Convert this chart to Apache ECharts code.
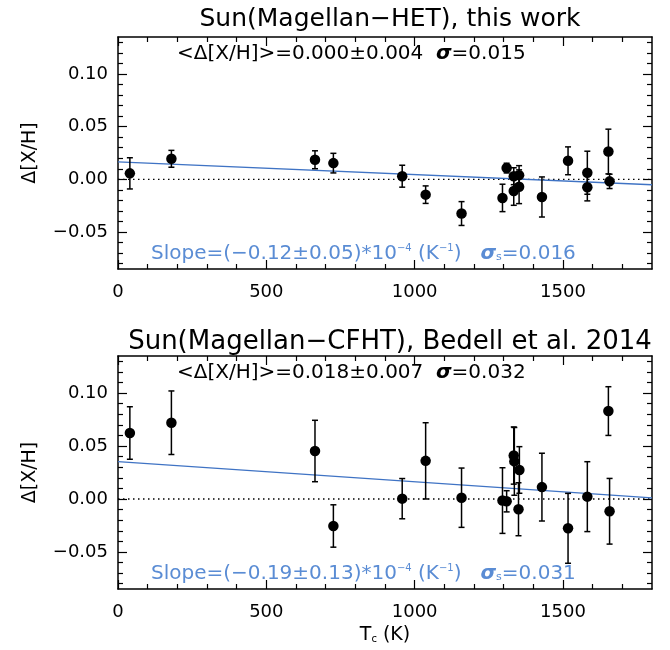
<!DOCTYPE html>
<html>
<head>
<meta charset="utf-8">
<script src="https://cdn.jsdelivr.net/npm/echarts@6/dist/echarts.min.js"></script>
<style>
html,body{margin:0;padding:0;background:#fff;}
#c{width:670px;height:650px;}
</style>
</head>
<body>
<div id="c"></div>
<script>
// ---- data ----
var tcTop   = [40, 180, 664, 726, 958, 1037, 1158, 1296, 1310, 1334, 1334, 1352, 1352, 1429, 1517, 1582, 1582, 1653, 1657];
var valTop  = [0.0057, 0.0195, 0.0186, 0.0154, 0.003, -0.0145, -0.0324, -0.0176, 0.0107, 0.003, -0.011, 0.004, -0.007, -0.0167, 0.0176, 0.0063, -0.0075, 0.0264, -0.0019];
var errTop  = [0.0148, 0.008, 0.0085, 0.0093, 0.0104, 0.0083, 0.0113, 0.013, 0.0046, 0.008, 0.0136, 0.009, 0.016, 0.019, 0.0132, 0.0204, 0.0129, 0.0212, 0.0068];

var tcBot   = [40, 180, 664, 726, 958, 1037, 1158, 1296, 1310, 1334, 1336, 1353, 1350, 1429, 1517, 1582, 1653, 1657];
var valBot  = [0.0623, 0.072, 0.0453, -0.0255, 0.0003, 0.036, 0.0012, -0.0015, -0.0022, 0.041, 0.0355, 0.0274, -0.0097, 0.0112, -0.0277, 0.0022, 0.083, -0.0116];
var errBot  = [0.0248, 0.030, 0.029, 0.020, 0.019, 0.036, 0.028, 0.031, 0.010, 0.027, 0.032, 0.022, 0.025, 0.032, 0.033, 0.033, 0.023, 0.031];

var fitTop = {intercept: 0.0165, slope: -0.12e-4};
var fitBot = {intercept: 0.0352, slope: -0.19e-4};

var xMajor = [0, 500, 1000, 1500];
var xMinor = [100, 200, 300, 400, 600, 700, 800, 900, 1100, 1200, 1300, 1400, 1600, 1700];
var yMajor = [-0.05, 0, 0.05, 0.10];
var yMinor = [-0.08, -0.07, -0.06, -0.04, -0.03, -0.02, -0.01, 0.01, 0.02, 0.03, 0.04, 0.06, 0.07, 0.08, 0.09, 0.11, 0.12, 0.13];
var xRange = [0, 1800];
var yRange = [-0.085, 0.135];

var titles = ['Sun(Magellan\u2212HET), this work', 'Sun(Magellan\u2212CFHT), Bedell et al. 2014'];
var meanTexts = [
  '<\u0394[X/H]>=0.000\u00b10.004  {s|\u03c3}=0.015',
  '<\u0394[X/H]>=0.018\u00b10.007  {s|\u03c3}=0.032'
];
var slopeTexts = [
  'Slope=(\u22120.12\u00b10.05)*10{sup|\u22124} (K{sup|\u22121})   {s|\u03c3}{sub|s}=0.016',
  'Slope=(\u22120.19\u00b10.13)*10{sup|\u22124} (K{sup|\u22121})   {s|\u03c3}{sub|s}=0.031'
];
var yName = '\u0394[X/H]';
var xName = 'T{sub|c} (K)';

// ---- layout ----
var FONT = 'DejaVu Sans';
var grids = [
  {left: 118, top: 37, width: 534, height: 232},
  {left: 118, top: 356, width: 534, height: 233}
];
var titleOffsets = [-35, -32];
var titleSizes = [25, 26];
var BLUE_LINE = '#3f73c4';
var BLUE_TEXT = '#5a8cd4';

function fmtY(v) {
  var s = Math.abs(v).toFixed(2);
  return (v < -1e-9 ? '\u2212' : '') + s;
}
function fmtX(v) { return String(Math.round(v)); }

var xAxes = [], yAxes = [], series = [], titleComps = [];

function richStyles(color, size) {
  return {
    s: {fontFamily: FONT, fontSize: size, fontWeight: 'bold', fontStyle: 'italic', color: color},
    sup: {fontFamily: FONT, fontSize: Math.round(size * 0.5), color: color, padding: [0, 0, Math.round(size * 0.55), 0]},
    sub: {fontFamily: FONT, fontSize: Math.round(size * 0.55), color: color, padding: [Math.round(size * 0.35), 0, 0, 0]}
  };
}

var TICK = {color: '#000', width: 1.2};
for (var g = 0; g < 2; g++) {
  var base = xAxes.length;
  xAxes.push({
    type: 'value', gridIndex: g, position: 'bottom', min: xRange[0], max: xRange[1],
    axisLine: {show: true, onZero: false, lineStyle: {color: '#000', width: 1.5}},
    axisTick: {show: true, inside: true, length: 9, customValues: xMajor, lineStyle: TICK},
    axisLabel: {show: true, customValues: xMajor, margin: 14, fontFamily: FONT, fontSize: 18, color: '#000', formatter: fmtX},
    splitLine: {show: false},
    name: g === 1 ? xName : '', nameLocation: 'middle', nameGap: 37,
    nameTextStyle: {fontFamily: FONT, fontSize: 19, color: '#000', rich: richStyles('#000', 19)}
  });
  xAxes.push({
    type: 'value', gridIndex: g, position: 'bottom', min: xRange[0], max: xRange[1],
    axisLine: {show: false, onZero: false},
    axisTick: {show: true, inside: true, length: 5, customValues: xMinor, lineStyle: TICK},
    axisLabel: {show: false}, splitLine: {show: false}
  });
  xAxes.push({
    type: 'value', gridIndex: g, position: 'top', min: xRange[0], max: xRange[1],
    axisLine: {show: true, onZero: false, lineStyle: {color: '#000', width: 1.5}},
    axisTick: {show: true, inside: true, length: 9, customValues: xMajor, lineStyle: TICK},
    axisLabel: {show: false}, splitLine: {show: false}
  });
  xAxes.push({
    type: 'value', gridIndex: g, position: 'top', min: xRange[0], max: xRange[1],
    axisLine: {show: false, onZero: false},
    axisTick: {show: true, inside: true, length: 5, customValues: xMinor, lineStyle: TICK},
    axisLabel: {show: false}, splitLine: {show: false}
  });
  yAxes.push({
    type: 'value', gridIndex: g, position: 'left', min: yRange[0], max: yRange[1],
    axisLine: {show: true, onZero: false, lineStyle: {color: '#000', width: 1.5}},
    axisTick: {show: true, inside: true, length: 9, customValues: yMajor, lineStyle: TICK},
    axisLabel: {show: true, customValues: yMajor, margin: 10, fontFamily: FONT, fontSize: 18, color: '#000', formatter: fmtY},
    splitLine: {show: false},
    name: yName, nameLocation: 'middle', nameGap: 78, nameRotate: 90,
    nameTextStyle: {fontFamily: FONT, fontSize: 19, color: '#000'}
  });
  yAxes.push({
    type: 'value', gridIndex: g, position: 'left', min: yRange[0], max: yRange[1],
    axisLine: {show: false, onZero: false},
    axisTick: {show: true, inside: true, length: 5, customValues: yMinor, lineStyle: TICK},
    axisLabel: {show: false}, splitLine: {show: false}
  });
  yAxes.push({
    type: 'value', gridIndex: g, position: 'right', min: yRange[0], max: yRange[1],
    axisLine: {show: true, onZero: false, lineStyle: {color: '#000', width: 1.5}},
    axisTick: {show: true, inside: true, length: 9, customValues: yMajor, lineStyle: TICK},
    axisLabel: {show: false}, splitLine: {show: false}
  });
  yAxes.push({
    type: 'value', gridIndex: g, position: 'right', min: yRange[0], max: yRange[1],
    axisLine: {show: false, onZero: false},
    axisTick: {show: true, inside: true, length: 5, customValues: yMinor, lineStyle: TICK},
    axisLabel: {show: false}, splitLine: {show: false}
  });

  var tc = g === 0 ? tcTop : tcBot;
  var val = g === 0 ? valTop : valBot;
  var err = g === 0 ? errTop : errBot;
  var fit = g === 0 ? fitTop : fitBot;

  var pts = [], ebs = [];
  for (var i = 0; i < tc.length; i++) {
    pts.push([tc[i], val[i]]);
    ebs.push([tc[i], val[i], err[i]]);
  }

  series.push({
    type: 'line', xAxisIndex: base, yAxisIndex: base, silent: true,
    data: [[xRange[0], 0], [xRange[1], 0]], symbol: 'none',
    lineStyle: {color: '#000', width: 1.3, type: [1.5, 3.5]}, z: 1
  });
  series.push({
    type: 'line', xAxisIndex: base, yAxisIndex: base, silent: true, symbol: 'none',
    data: [[xRange[0], fit.intercept + fit.slope * xRange[0]], [xRange[1], fit.intercept + fit.slope * xRange[1]]],
    lineStyle: {color: BLUE_LINE, width: 1.3}, z: 2
  });
  series.push({
    type: 'custom', xAxisIndex: base, yAxisIndex: base, silent: true, z: 3,
    data: ebs,
    renderItem: function (params, api) {
      var x = api.value(0), y = api.value(1), e = api.value(2);
      var hi = api.coord([x, y + e]);
      var lo = api.coord([x, y - e]);
      var w = 3;
      var st = {stroke: '#000', lineWidth: 1.5};
      return {
        type: 'group', children: [
          {type: 'line', shape: {x1: hi[0], y1: hi[1], x2: lo[0], y2: lo[1]}, style: st},
          {type: 'line', shape: {x1: hi[0] - w, y1: hi[1], x2: hi[0] + w, y2: hi[1]}, style: st},
          {type: 'line', shape: {x1: lo[0] - w, y1: lo[1], x2: lo[0] + w, y2: lo[1]}, style: st}
        ]
      };
    }
  });
  series.push({
    type: 'scatter', xAxisIndex: base, yAxisIndex: base, silent: true, z: 4,
    data: pts, symbol: 'circle', symbolSize: 10.5,
    itemStyle: {color: '#000', opacity: 1}
  });

  var gr = grids[g];
  titleComps.push({
    text: titles[g], left: gr.left + gr.width / 2, top: gr.top + titleOffsets[g], textAlign: 'center',
    textStyle: {fontFamily: FONT, fontSize: titleSizes[g], fontWeight: 'normal', color: '#000'}
  });
  titleComps.push({
    text: meanTexts[g], left: 172, top: gr.top + 2,
    textStyle: {fontFamily: FONT, fontSize: 20, fontWeight: 'normal', color: '#000', rich: richStyles('#000', 20)}
  });
  titleComps.push({
    text: slopeTexts[g], left: 146, top: gr.top + gr.height - 31,
    textStyle: {fontFamily: FONT, fontSize: 20, fontWeight: 'normal', color: BLUE_TEXT, rich: richStyles(BLUE_TEXT, 20)}
  });
}

var chart = echarts.init(document.getElementById('c'), null, {renderer: 'canvas'});
chart.setOption({
  animation: false,
  backgroundColor: '#fff',
  title: titleComps,
  grid: grids.map(function (g) { return {left: g.left, top: g.top, width: g.width, height: g.height, containLabel: false}; }),
  xAxis: xAxes,
  yAxis: yAxes,
  series: series
});
</script>
</body>
</html>
